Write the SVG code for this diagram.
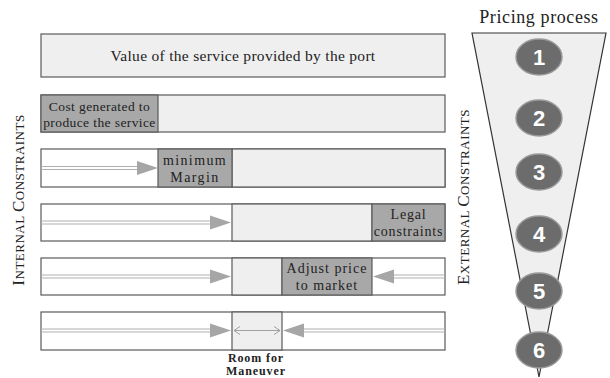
<svg xmlns="http://www.w3.org/2000/svg" width="610" height="378" viewBox="0 0 610 378">
<style>
.box{stroke:#5a5a5a;stroke-width:1.2}
.lt{fill:#efefef}
.dk{fill:#a8a8a8}
.wh{fill:#ffffff}
.t{font-family:"Liberation Serif",serif;fill:#222;text-anchor:middle}
.al{stroke:#b0b0b0;stroke-width:1.2;fill:none}
.ah{fill:#a6a6a6}
.c{fill:#6c6c6c;stroke:#9a9a9a;stroke-width:1.5}
.n{font-family:"Liberation Sans",sans-serif;font-weight:bold;font-size:22px;fill:#ffffff;text-anchor:middle}
.lab{font-family:"Liberation Serif",serif;fill:#222;text-anchor:middle;letter-spacing:0.5px}
.rm{font-family:"Liberation Serif",serif;font-weight:bold;font-size:12px;letter-spacing:0.9px;fill:#222;text-anchor:middle}
</style>
<rect width="610" height="378" fill="#ffffff"/>

<g id="row1">
<rect class="box lt" x="41" y="34" width="404" height="43"/>
<text class="t" x="243" y="61" font-size="15.5" letter-spacing="0.3">Value of the service provided by the port</text>
</g>

<g id="row2">
<rect class="box lt" x="41" y="95" width="404" height="37"/>
<rect class="box dk" x="41" y="95" width="117" height="37"/>
<text class="t" x="99.5" y="111" font-size="13.5" letter-spacing="0.4">Cost generated to</text>
<text class="t" x="99.5" y="127" font-size="13.5" letter-spacing="0.4">produce the service</text>
</g>

<g id="row3">
<rect class="box wh" x="41" y="149" width="404" height="38"/>
<rect class="box lt" x="232" y="149" width="213" height="38"/>
<rect class="box dk" x="158" y="149" width="74" height="38"/>
<text class="t" x="195" y="165" font-size="14" letter-spacing="1.4">minimum</text>
<text class="t" x="195" y="182" font-size="14" letter-spacing="1.4">Margin</text>
</g>

<g id="row4">
<rect class="box wh" x="41" y="204" width="404" height="37"/>
<rect class="box lt" x="232" y="204" width="140" height="37"/>
<rect class="box dk" x="372" y="204" width="73" height="37"/>
<text class="t" x="408.5" y="219" font-size="14" letter-spacing="0.8">Legal</text>
<text class="t" x="408.5" y="236" font-size="14" letter-spacing="0.8">constraints</text>
</g>

<g id="row5">
<rect class="box wh" x="41" y="258" width="404" height="37"/>
<rect class="box lt" x="232" y="258" width="50" height="37"/>
<rect class="box dk" x="282" y="258" width="90" height="37"/>
<text class="t" x="327" y="273" font-size="14" letter-spacing="1">Adjust price</text>
<text class="t" x="327" y="290" font-size="14" letter-spacing="1">to market</text>
</g>

<g id="row6">
<rect class="box wh" x="41" y="312" width="404" height="38"/>
<rect class="box lt" x="232" y="312" width="50" height="38"/>
<text class="rm" x="256" y="362">Room for</text>
<text class="rm" x="256" y="375">Maneuver</text>
</g>

<g id="connectors">
<path class="al" d="M41 166.5H140M41 169.5H140"/>
<polygon class="ah" points="137,161 158,168 137,175"/>
<path class="al" d="M41 221H213M41 224H213"/>
<polygon class="ah" points="210,215.5 231,222.5 210,229.5"/>
<path class="al" d="M41 275H213M41 278H213"/>
<polygon class="ah" points="210,269.5 231,276.5 210,283.5"/>
<path class="al" d="M391 275H445M391 278H445"/>
<polygon class="ah" points="394,269.5 373,276.5 394,283.5"/>
<path class="al" d="M41 329H213M41 332H213"/>
<polygon class="ah" points="210,323.5 231,330.5 210,337.5"/>
<path class="al" d="M301 329H445M301 332H445"/>
<polygon class="ah" points="304,323.5 283,330.5 304,337.5"/>
<path d="M234 330.5H280M240 326.5L234 330.5L240 334.5M274 326.5L280 330.5L274 334.5" fill="none" stroke="#a0a0a0" stroke-width="1"/>
</g>

<g id="internal-label">
<text class="lab" transform="translate(24,200) rotate(-90)"><tspan font-size="17">I</tspan><tspan font-size="13">NTERNAL </tspan><tspan font-size="17">C</tspan><tspan font-size="13">ONSTRAINTS</tspan></text>
</g>

<g id="external-label">
<text class="lab" transform="translate(469,197) rotate(-90)"><tspan font-size="17">E</tspan><tspan font-size="13">XTERNAL </tspan><tspan font-size="17">C</tspan><tspan font-size="13">ONSTRAINTS</tspan></text>
</g>

<g id="funnel">
<text class="t" x="539" y="23" font-size="18" letter-spacing="0.6">Pricing process</text>
<polygon points="472,33 606,33 539,377" fill="#efefef" stroke="#333" stroke-width="1.2"/>
</g>

<g id="step1"><ellipse class="c" cx="539" cy="57" rx="23" ry="18"/><text class="n" x="539" y="65">1</text></g>
<g id="step2"><ellipse class="c" cx="539" cy="118" rx="23" ry="18"/><text class="n" x="539" y="126">2</text></g>
<g id="step3"><ellipse class="c" cx="539" cy="172" rx="23" ry="18"/><text class="n" x="539" y="180">3</text></g>
<g id="step4"><ellipse class="c" cx="539" cy="234" rx="23" ry="18"/><text class="n" x="539" y="242">4</text></g>
<g id="step5"><ellipse class="c" cx="539" cy="291" rx="23" ry="18"/><text class="n" x="539" y="299">5</text></g>
<g id="step6"><ellipse class="c" cx="539" cy="350" rx="23" ry="18"/><text class="n" x="539" y="358">6</text></g>
</svg>
